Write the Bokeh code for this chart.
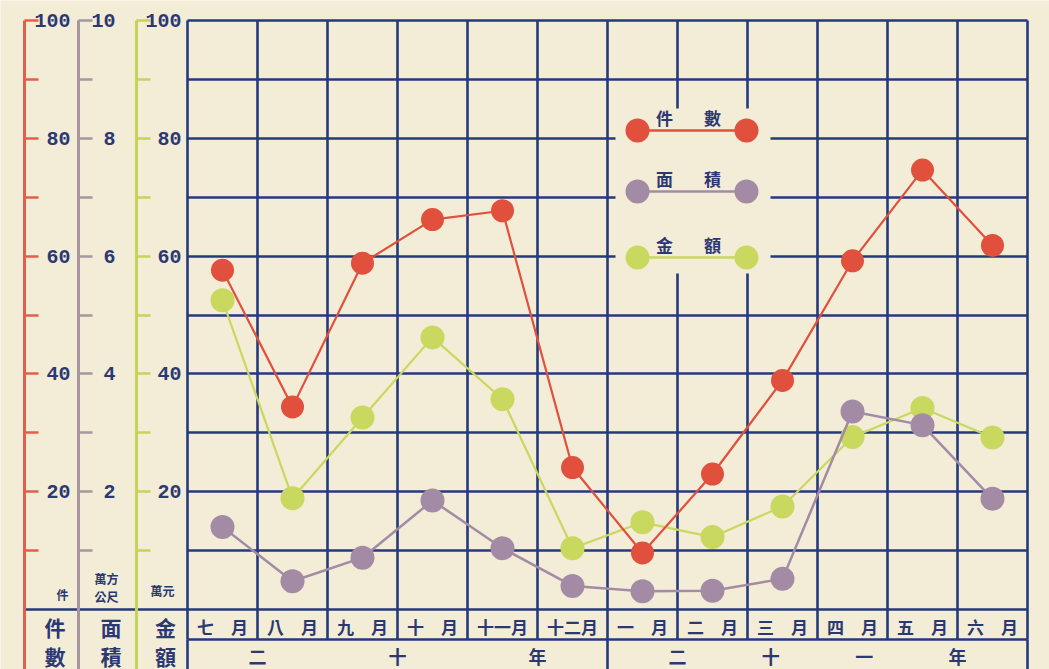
from bokeh.plotting import figure
from bokeh.models import Range1d, LinearAxis, FixedTicker, Grid, ColumnDataSource
from bokeh.core.properties import value
from bokeh.embed import file_html
from bokeh.resources import INLINE

# ---------------- data ----------------
MONTHS = ["七月", "八月", "九月", "十月", "十一月", "十二月",
          "一月", "二月", "三月", "四月", "五月", "六月"]
YEARS = ["二十年", "二十一年"]
YEAR_MONTHS = [6, 6]
SERIES = ["件數", "面積", "金額"]
UNITS = ["件", "萬方公尺", "萬元"]

CASES = [57.6, 34.4, 58.8, 66.2, 67.7, 24.1, 9.6, 23.0, 38.9, 59.2, 74.6, 61.8]   # 件
AREA = [1.40, 0.48, 0.88, 1.85, 1.04, 0.40, 0.31, 0.32, 0.52, 3.36, 3.13, 1.88]    # 萬方公尺
AMOUNT = [52.5, 18.9, 32.6, 46.2, 35.7, 10.4, 14.8, 12.3, 17.5, 29.3, 34.2, 29.2]  # 萬元

CASE_TICKS = [20, 40, 60, 80, 100]
CASE_MINOR = [10, 30, 50, 70, 90]
AREA_TICKS = [2, 4, 6, 8, 10]
AREA_MINOR = [1, 3, 5, 7, 9]
AMOUNT_TICKS = [20, 40, 60, 80, 100]
AMOUNT_MINOR = [10, 30, 50, 70, 90]
GRID_LEVELS = [10, 20, 30, 40, 50, 60, 70, 80, 90, 100]

# ---------------- styling ----------------
NAVY = "#253a7d"
INK = "#2b3872"
PAPER = "#f3ecd7"
RED = "#e0503c"
PURPLE = "#a38ba6"
GREEN = "#c9d85e"
RED_AX = "#e2604a"
PURPLE_AX = "#a8959f"
GREEN_AX = "#c4d35a"
CJK = value("Noto Sans CJK TC")

W, H = 1049, 669
XS = 70.0     # px per month column
X0 = 222.0    # page px of first month centre
YS = 5.89     # px per unit on 0-100 scale
Y0 = 609.0    # page px of value 0


def dx(px):   # page px -> data x
    return (px - X0) / XS


def dy(py):   # page px -> data y
    return (Y0 - py) / YS


x_rng = Range1d(dx(0), dx(W))
y_rng = Range1d(dy(H), dy(0))

p = figure(width=W, height=H, x_range=x_rng, y_range=y_rng,
           x_axis_type=None, y_axis_type=None, toolbar_location=None,
           output_backend="svg", min_border=0,
           background_fill_color=PAPER, border_fill_color=PAPER,
           outline_line_color=None)
p.extra_y_ranges = {"area": Range1d(y_rng.start / 10, y_rng.end / 10),
                    "amount": Range1d(y_rng.start, y_rng.end)}

n = len(MONTHS)
left_edge = -0.5
right_edge = n - 0.5
month_row_bottom = dy(639)
RED_X, PURPLE_X, GREEN_X = dx(24), dx(78), dx(136)


# ---------------- axes ----------------
def add_axis(loc, ticks, minor, color, rng, standoff, top):
    start = p.extra_y_ranges[rng].start if rng != "default" else y_rng.start
    ax = LinearAxis(y_range_name=rng, fixed_location=loc,
                    ticker=FixedTicker(ticks=ticks, minor_ticks=minor),
                    bounds=(start, top),
                    axis_line_color=color, axis_line_width=3,
                    major_tick_line_color=color, major_tick_line_width=2.5,
                    major_tick_in=14, major_tick_out=0,
                    minor_tick_line_color=color, minor_tick_line_width=2.5,
                    minor_tick_in=14, minor_tick_out=0,
                    major_label_standoff=standoff,
                    major_label_text_color=INK,
                    major_label_text_font="Liberation Mono",
                    major_label_text_font_style="bold",
                    major_label_text_font_size="20px")
    p.add_layout(ax, "left")


add_axis(RED_X, CASE_TICKS, CASE_MINOR, RED_AX, "default", -46, 100)
add_axis(PURPLE_X, AREA_TICKS, AREA_MINOR, PURPLE_AX, "area", -37, 10)
add_axis(GREEN_X, AMOUNT_TICKS, AMOUNT_MINOR, GREEN_AX, "amount", -45, 100)


# ---------------- grid ----------------
def add_grid(dim, ticks, cross, width=2.6):
    g = Grid(dimension=dim, ticker=FixedTicker(ticks=ticks), cross_bounds=cross,
             grid_line_color=NAVY, grid_line_width=width)
    p.add_layout(g)


col_edges = [i - 0.5 for i in range(n + 1)]
add_grid(0, col_edges, (month_row_bottom, 100))
year_edges = [-0.5]
acc = 0
for k in YEAR_MONTHS:
    acc += k
    year_edges.append(acc - 0.5)
add_grid(0, year_edges, (y_rng.start, month_row_bottom))
add_grid(1, GRID_LEVELS, (left_edge, right_edge))
add_grid(1, [0], (RED_X, right_edge))
add_grid(1, [month_row_bottom], (left_edge, right_edge))

# ---------------- legend box (paper patch over grid) ----------------
p.quad(left=[dx(615)], right=[dx(770)], top=[dy(108)], bottom=[dy(273)],
       fill_color=PAPER, line_color=None)

# ---------------- series ----------------
src = ColumnDataSource(dict(x=list(range(n)), cases=CASES, area=AREA, amount=AMOUNT))
p.line("x", "amount", source=src, y_range_name="amount", line_color=GREEN, line_width=2.2)
p.scatter("x", "amount", source=src, y_range_name="amount", size=24,
          fill_color=GREEN, line_color=None)
p.line("x", "area", source=src, y_range_name="area", line_color=PURPLE, line_width=2.5)
p.scatter("x", "area", source=src, y_range_name="area", size=24,
          fill_color=PURPLE, line_color=None)
p.line("x", "cases", source=src, line_color=RED, line_width=2.2)
p.scatter("x", "cases", source=src, size=23, fill_color=RED, line_color=None)

# ---------------- custom legend ----------------
leg_colors = [RED, PURPLE, GREEN]
leg_rows = [dy(130), dy(191), dy(257)]
lx0, lx1 = dx(637), dx(746)
for name, c, yy in zip(SERIES, leg_colors, leg_rows):
    p.line([lx0, lx1], [yy, yy], line_color=c, line_width=2.5)
    p.scatter([lx0, lx1], [yy, yy], size=24, fill_color=c, line_color=None)
    p.text(x=[dx(664), dx(712)], y=[yy + 13 / YS] * 2, text=list(name),
           text_font=CJK, text_font_style="bold", text_font_size="17px",
           text_color=INK, text_align="center", text_baseline="middle")

# ---------------- month / year rows ----------------
month_text = [m[0] + "\u3000" + m[1:] if len(m) == 2 else m for m in MONTHS]
p.text(x=list(range(n)), y=[dy(626)] * n, text=month_text,
       text_font=CJK, text_font_style="bold", text_font_size="17px",
       text_color=INK, text_align="center", text_baseline="middle")

yx, yt = [], []
start = 0
for yname, k in zip(YEARS, YEAR_MONTHS):
    chars = list(yname)
    a, b = start + 0.5, start + k - 1.5
    for j, ch in enumerate(chars):
        yx.append(a + (b - a) * j / (len(chars) - 1))
        yt.append(ch)
    start += k
p.text(x=yx, y=[dy(655)] * len(yt), text=yt,
       text_font=CJK, text_font_style="bold", text_font_size="18px",
       text_color=INK, text_align="center", text_baseline="middle")

# ---------------- header cells & units ----------------
axis_xs = [RED_X, PURPLE_X, GREEN_X, left_edge]
hx, hy, ht = [], [], []
for i, name in enumerate(SERIES):
    cx = (axis_xs[i] + axis_xs[i + 1]) / 2 + 0.05
    hx += [cx, cx]
    hy += [dy(626), dy(655)]
    ht += [name[0], name[1]]
p.text(x=hx, y=hy, text=ht, text_font=CJK, text_font_style="bold",
       text_font_size="21px", text_color=INK, text_align="center",
       text_baseline="middle")

ux = [dx(62), dx(106), dx(106), dx(162)]
uy = [dy(594), dy(578), dy(596), dy(590)]
ut = [UNITS[0], UNITS[1][:2], UNITS[1][2:], UNITS[2]]
p.text(x=ux, y=uy, text=ut, text_font=CJK, text_font_style="bold",
       text_font_size="12px", text_color=INK, text_align="center",
       text_baseline="middle")

open("out.html", "w").write(file_html(p, INLINE))
